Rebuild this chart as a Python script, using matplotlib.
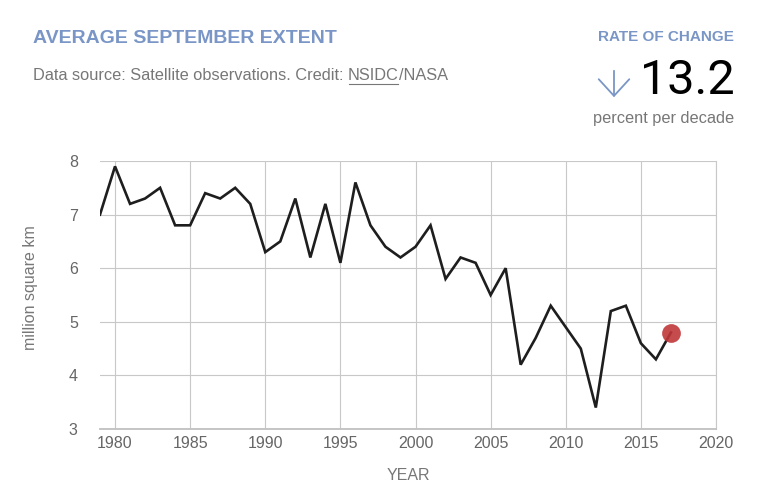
import numpy as np
import matplotlib
matplotlib.use("Agg")
import matplotlib.pyplot as plt
from matplotlib.patches import FancyArrowPatch

# September average Arctic sea ice extent (million square km)
years = list(range(1979, 2018))
extent = [7.0, 7.9, 7.2, 7.3, 7.5, 6.8, 6.8, 7.4, 7.3, 7.5,
          7.2, 6.3, 6.5, 7.3, 6.2, 7.2, 6.1, 7.6, 6.8, 6.4,
          6.2, 6.4, 6.8, 5.8, 6.2, 6.1, 5.5, 6.0, 4.2, 4.7,
          5.3, 4.9, 4.5, 3.4, 5.2, 5.3, 4.6, 4.3, 4.8]
x_ticks = [1980, 1985, 1990, 1995, 2000, 2005, 2010, 2015, 2020]
y_ticks = [3, 4, 5, 6, 7, 8]
rate_of_change = "13.2"

BLUE = "#7a96c6"
GRAY = "#777777"

plt.rcParams['font.family'] = ['Liberation Sans', 'DejaVu Sans']

W, H = 762, 498
fig = plt.figure(figsize=(W / 100, H / 100), dpi=100)
ax = fig.add_axes([100 / W, (H - 429) / H, (716 - 100) / W, (429 - 161) / H])

ax.plot(years, extent, color="#1e1e1e", lw=1.9, solid_joinstyle="miter", zorder=3)
ax.plot(years[-1], extent[-1], "o", color="#c0373a", ms=13.5, alpha=0.9,
        mec="none", zorder=4)

ax.set_xlim(1979, 2020)
ax.set_ylim(3, 8)
ax.set_xticks(x_ticks)
ax.set_yticks(y_ticks)
ax.grid(True, color="#c8c8c8", lw=0.8)
ax.set_axisbelow(True)
for s in ["left", "top"]:
    ax.spines[s].set_visible(False)
ax.spines["right"].set_color("#c8c8c8")
ax.spines["right"].set_linewidth(0.8)
ax.spines["bottom"].set_color("#c0c0c0")
ax.spines["bottom"].set_linewidth(1.3)
ax.tick_params(length=0, labelsize=11.5, labelcolor="#666666")
ax.tick_params(axis="y", pad=16)
ax.tick_params(axis="x", pad=5)

ax.set_xlabel("YEAR", fontsize=11.5, color=GRAY, labelpad=12)
fig.text(30 / W, 1 - 288 / H, "million square km", rotation=90, fontsize=11.5,
         color=GRAY, ha="center", va="center")

# header
fig.text(33 / W, 1 - 38 / H, "AVERAGE SEPTEMBER EXTENT", fontsize=14,
         fontweight="bold", color=BLUE, va="center", ha="left")

# subtitle in pieces so that NSIDC can be underlined
renderer = fig.canvas.get_renderer()
sub_y = 1 - 76 / H
parts = ["Data source: Satellite observations. Credit: ", "NSIDC", "/NASA"]
x0 = 33 / W
for i, p in enumerate(parts):
    t = fig.text(x0, sub_y, p, fontsize=11.8, color=GRAY, va="center", ha="left")
    w = t.get_window_extent(renderer).width / W
    if i == 1:
        fig.add_artist(plt.Line2D([x0 + 0.5 / W, x0 + w - 0.5 / W],
                                  [1 - 84 / H, 1 - 84 / H], color=GRAY, lw=0.8))
    x0 += w

fig.text(734 / W, 1 - 37 / H, "RATE OF CHANGE", fontsize=11, fontweight="bold",
         color=BLUE, va="center", ha="right")
fig.text(735 / W, 1 - 81 / H, rate_of_change, fontsize=35, color="black",
         family="Roboto", fontweight="normal", va="center", ha="right")
fig.text(734 / W, 1 - 118 / H, "percent per decade", fontsize=11.8, color=GRAY,
         va="center", ha="right")
fig.add_artist(FancyArrowPatch(
    (614 / W, 1 - 68 / H), (614 / W, 1 - 100 / H), transform=fig.transFigure,
    arrowstyle="->,head_length=0.6,head_width=0.55", mutation_scale=20,
    color=BLUE, lw=1.3))

fig.savefig("out.png", dpi=100)
